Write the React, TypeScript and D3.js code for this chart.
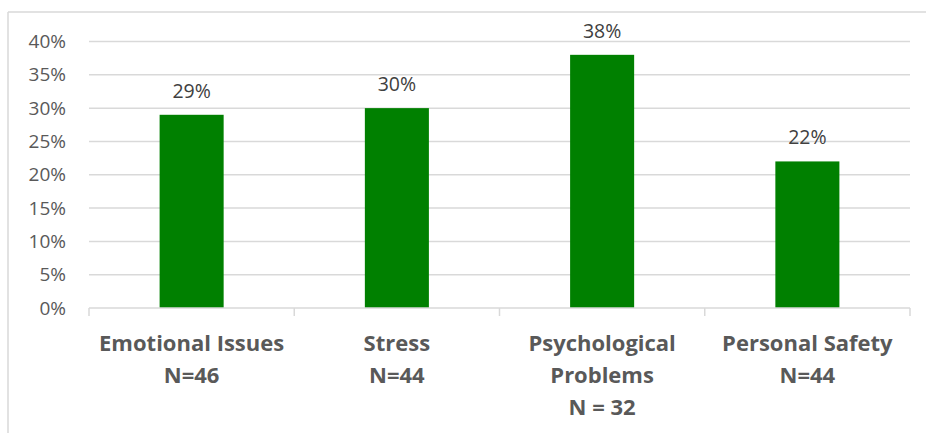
import React from "react";
import * as d3 from "d3";

const categories = ["Emotional Issues", "Stress", "Psychological Problems", "Personal Safety"];
const categoryLines = [
  ["Emotional Issues", "N=46"],
  ["Stress", "N=44"],
  ["Psychological", "Problems", "N = 32"],
  ["Personal Safety", "N=44"],
];
const values = [0.29, 0.3, 0.38, 0.22];
const yTicks = [0, 0.05, 0.1, 0.15, 0.2, 0.25, 0.3, 0.35, 0.4];

const W = 926;
const H = 433;
const plotLeft = 89;
const plotRight = 910;
const plotTop = 41.5;
const plotBottom = 308;

const GRID = "#d9d9d9";
const TEXT = "#595959";
const BAR = "#008000";
const FONT = "'Open Sans', 'Liberation Sans', sans-serif";

export default function App() {
  const x = d3
    .scaleBand<string>()
    .domain(categories)
    .range([plotLeft, plotRight])
    .paddingInner(0.688)
    .paddingOuter(0.344);
  const y = d3.scaleLinear().domain([0, 0.4]).range([plotBottom, plotTop]);
  const fmt = d3.format(".0%");
  const step = x.step();
  const boundaries = d3.range(categories.length + 1).map((i) => plotLeft + i * step);

  return (
    <div style={{ position: "absolute", left: 0, top: 0 }}>
      <svg width={W} height={H} style={{ display: "block", background: "#fff" }} fontFamily={FONT}>
        {/* chart frame */}
        <line x1={8} x2={W} y1={12} y2={12} stroke={GRID} strokeWidth={1.5} />
        <line x1={8} x2={8} y1={12} y2={H} stroke={GRID} strokeWidth={1.5} />

        {/* gridlines and y labels */}
        {yTicks.map((t) => (
          <g key={t}>
            {t > 0 && (
              <line x1={plotLeft} x2={plotRight} y1={y(t)} y2={y(t)} stroke={GRID} strokeWidth={1.5} />
            )}
            <text x={66} y={y(t)} dy="0.35em" textAnchor="end" fontSize={19} fill={TEXT}>
              {fmt(t)}
            </text>
          </g>
        ))}

        {/* bars */}
        {categories.map((c, i) => (
          <g key={c}>
            <rect x={x(c)} y={y(values[i])} width={x.bandwidth()} height={plotBottom - y(values[i])} fill={BAR} />
            <text
              x={(x(c) as number) + x.bandwidth() / 2}
              y={y(values[i]) - 17}
              textAnchor="middle"
              fontSize={19.5}
              fill="#404040"
            >
              {fmt(values[i])}
            </text>
          </g>
        ))}

        {/* x axis */}
        <line x1={plotLeft} x2={plotRight} y1={plotBottom} y2={plotBottom} stroke={GRID} strokeWidth={1.5} />
        {boundaries.map((bx, i) => (
          <line key={i} x1={bx} x2={bx} y1={plotBottom} y2={plotBottom + 8} stroke={GRID} strokeWidth={1.5} />
        ))}

        {/* category labels */}
        {categories.map((c, i) => (
          <text
            key={c}
            x={(x(c) as number) + x.bandwidth() / 2}
            textAnchor="middle"
            fontSize={22}
            fontWeight="bold"
            fill={TEXT}
          >
            {categoryLines[i].map((line, j) => (
              <tspan key={j} x={(x(c) as number) + x.bandwidth() / 2} y={351 + j * 32}>
                {line}
              </tspan>
            ))}
          </text>
        ))}
      </svg>
    </div>
  );
}
